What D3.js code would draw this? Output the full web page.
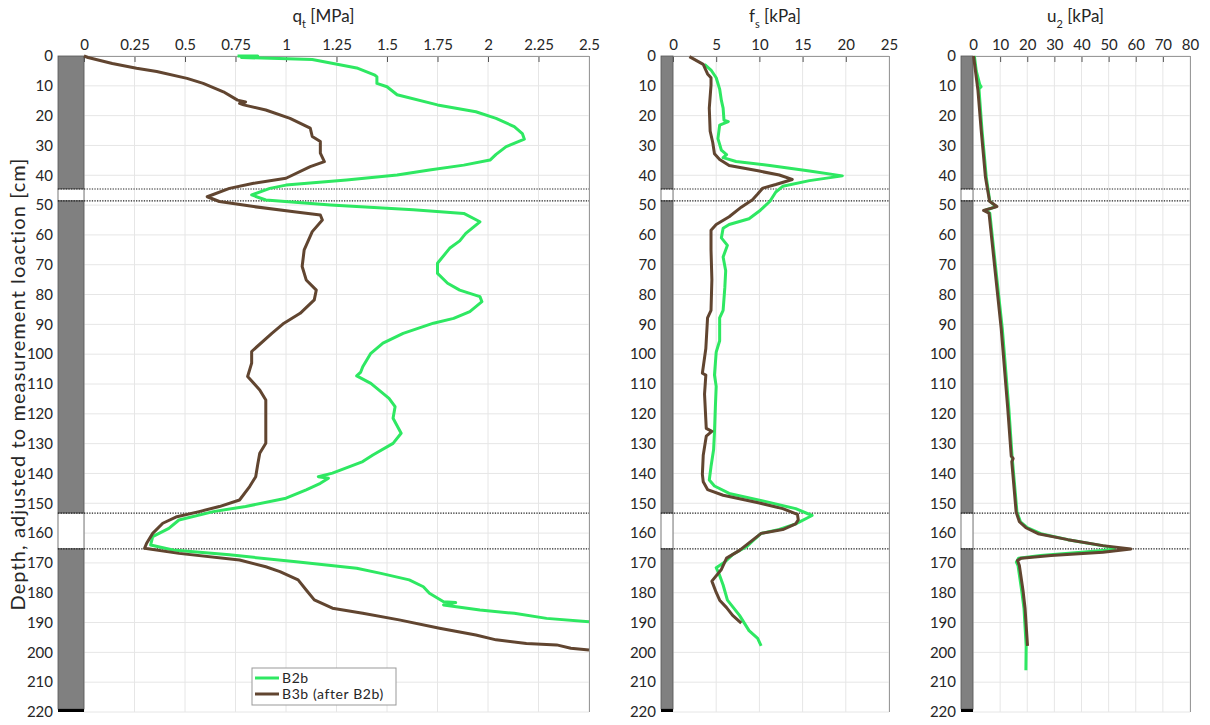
<!DOCTYPE html>
<html><head><meta charset="utf-8">
<script src="https://cdn.jsdelivr.net/npm/d3@7"></script>
<style>body{margin:0;background:#fff}svg{display:block}text{font-family:Lato,"Open Sans",sans-serif;fill:#262626}</style>
</head><body><svg id="c" width="1210" height="725"></svg>
<script>
// ---------- DATA ----------
const seriesNames = ["B2b", "B3b (after B2b)"];
const seriesColors = ["#2ee862", "#614530"];
const depthTicks = d3.range(0, 221, 10);
const qtTicks = [0, 0.25, 0.5, 0.75, 1, 1.25, 1.5, 1.75, 2, 2.25, 2.5];
const fsTicks = [0, 5, 10, 15, 20, 25];
const u2Ticks = [0, 10, 20, 30, 40, 50, 60, 70, 80];
const boundaryDepths = [44.6, 48.6, 153.3, 165.3];
const layerTop = [0, 44.6, 48.6, 153.3, 165.3, 219];
const layerBottom = [44.6, 48.6, 153.3, 165.3, 219, 220];
const layerKind = ["soil", "gap", "soil", "gap", "soil", "base"];

// qt [MPa]  [depth, value]
const qtB2b = [[0,0.76],[0,0.86],[0.5,0.78],[1.2,1.13],[4,1.35],[6.4,1.44],[7,1.45],[9.2,1.45],[10.3,1.50],[13,1.55],[16.4,1.75],[18.7,1.94],[20.9,2.04],[23.7,2.13],[26,2.17],[27.9,2.18],[30.4,2.09],[33,2.04],[34.9,2.01],[36.6,1.88],[38.2,1.71],[39.9,1.55],[41.6,1.30],[43.3,1.00],[44.4,0.92],[46.6,0.83],[48.3,0.90],[50,1.22],[51.6,1.63],[52.8,1.88],[55.6,1.96],[59.5,1.89],[62,1.86],[64.5,1.81],[69.5,1.75],[72.9,1.75],[76.2,1.80],[78.5,1.86],[80.7,1.96],[82.4,1.97],[85.7,1.91],[88,1.83],[89.6,1.73],[93,1.58],[96.3,1.48],[99.7,1.42],[104.2,1.38],[106,1.37],[107.3,1.35],[109.8,1.42],[114.8,1.51],[117.6,1.54],[121.5,1.53],[126.5,1.57],[129.9,1.53],[133.8,1.43],[136,1.38],[139.9,1.23],[141.1,1.16],[141.6,1.21],[143.3,1.17],[145.5,1.10],[148.3,1.00],[151.1,0.80],[152.8,0.64],[155.6,0.47],[158.4,0.42],[161.2,0.34],[164,0.33],[165.7,0.44],[167.3,0.72],[169.6,1.05],[171.8,1.35],[173.5,1.47],[175.7,1.61],[178,1.68],[180.2,1.71],[183,1.78],[183.3,1.84],[184.1,1.78],[185.8,1.96],[186.9,2.13],[188.6,2.29],[189.7,2.50]];
const qtB3b = [[0,0],[0.5,0.02],[2.5,0.14],[4.1,0.26],[5.2,0.36],[7.5,0.51],[9.2,0.59],[12,0.69],[14.8,0.76],[15.4,0.80],[15.9,0.77],[16.4,0.79],[18.1,0.90],[20.9,1.02],[24.2,1.12],[27,1.13],[28.7,1.17],[32.6,1.17],[35.4,1.19],[37.1,1.12],[41,1.00],[42.7,0.84],[44.4,0.72],[47.2,0.61],[48.8,0.67],[50.5,0.84],[52.2,1.04],[53.3,1.17],[55,1.18],[58.9,1.13],[65,1.09],[70.6,1.08],[75.1,1.10],[78.5,1.15],[81.8,1.14],[86.3,1.07],[89.6,0.99],[93,0.93],[99.1,0.83],[103,0.83],[107.5,0.81],[112,0.87],[115.4,0.90],[124.3,0.90],[129.9,0.90],[133.2,0.87],[137,0.86],[141.1,0.85],[144.4,0.82],[148.9,0.77],[151.1,0.67],[152.8,0.57],[154.5,0.46],[156.7,0.39],[160.1,0.34],[163.4,0.31],[165.1,0.30],[166.8,0.47],[169,0.77],[171.3,0.90],[172.9,0.97],[175.7,1.06],[179.1,1.10],[182.4,1.14],[185.2,1.23],[186.9,1.38],[189.1,1.56],[191.9,1.76],[194.2,1.94],[195.8,2.04],[197,2.19],[197.5,2.34],[198.6,2.41],[199.2,2.50]];

// fs [kPa]
const fsB2b = [[2.8,3.65],[4.7,4.4],[7.3,5.0],[11.1,5.4],[14.9,5.6],[17.5,5.8],[21.5,5.9],[22,6.4],[23.2,5.4],[27.7,5.2],[31.6,5.6],[33.1,6.2],[34.1,5.8],[35.4,7.3],[36.7,11.2],[38.6,15.8],[40.2,19.6],[41.8,15.8],[43.7,12.7],[45.6,11.9],[48.8,11.2],[52,10.0],[54.6,8.8],[56.5,6.5],[57.8,5.8],[61,5.6],[63.5,6.3],[67.4,5.8],[72,6.1],[77.6,6.0],[85.3,5.8],[87.8,5.4],[95.5,5.4],[99.3,5.0],[107,4.8],[110.8,5.0],[118,4.9],[126.2,4.8],[132,4.7],[137.7,4.4],[142.2,4.2],[144.2,4.8],[146.7,6.5],[149.2,10.4],[151.8,14.2],[154.1,16.1],[156.9,14.2],[158.8,12.3],[160.1,10.2],[162.7,9.2],[164.6,8.5],[167.2,6.9],[169.7,6.0],[171.6,5.0],[174.2,5.4],[177.4,5.8],[182.5,6.3],[187.6,7.7],[192.7,8.8],[195.3,9.8],[197.8,10.2]];
const fsB3b = [[0.2,1.9],[2.8,3.5],[4.7,3.8],[6,4.0],[7.3,4.4],[9.8,4.4],[17.5,4.2],[25.2,4.3],[29,4.6],[32.8,4.8],[34.7,5.4],[36.7,6.5],[38.6,10.0],[39.9,12.3],[41.4,13.8],[43.1,11.9],[44.3,10.4],[46.3,9.8],[48.2,9.2],[50.7,7.9],[53.9,6.5],[56.5,5.0],[58.4,4.4],[65,4.4],[75,4.5],[85.3,4.4],[87.8,4.0],[98.1,3.8],[106.4,3.4],[107,3.8],[113.4,3.65],[124.9,3.85],[125.9,4.5],[127.5,3.85],[133.9,3.5],[140.3,3.4],[142.8,3.5],[145.4,4.0],[147.3,5.8],[149.9,10.0],[151.8,12.7],[153.7,14.4],[155.5,14.5],[156.9,14.2],[158.8,12.7],[160.1,10.2],[163.3,8.8],[165.8,7.7],[168.4,6.2],[172.2,5.6],[176.1,4.5],[179.9,5.0],[182.5,5.4],[185,6.2],[187.6,6.9],[190.2,7.9]];

// u2 [kPa]
const u2B2b = [[0,0.5],[5,1.2],[9.6,2.5],[10.3,3.0],[11,2.2],[24.7,3.3],[40.7,4.9],[48.7,6.2],[50.5,8.5],[51.8,4.3],[52.7,6.2],[64.7,7.6],[91.4,10.8],[118.1,13.2],[134.2,14.4],[152.9,16.2],[156.2,17.5],[158.2,20],[160.2,25],[162.2,35],[164.7,50.7],[165.5,52],[166.4,40],[167.5,25],[168.4,16.8],[169.7,16.0],[170.9,16.6],[179.7,18.0],[185.3,18.8],[197.8,19.6],[206,19.5]];
const u2B3b = [[0,0.2],[11.3,1.8],[24.7,3.0],[40.7,4.6],[48.7,6.1],[50.5,8.8],[51.8,3.9],[52.7,5.9],[64.7,7.3],[91.4,10.4],[118.1,12.8],[134.2,14.1],[135,14.8],[136,14.3],[152.9,15.9],[156.2,17.1],[158.2,19.5],[160.2,24],[162.2,35],[164.2,47.9],[165.3,58.2],[166.4,47.9],[167.5,28.8],[168.4,17.8],[169.2,16.4],[170.9,17.1],[179.7,18.5],[185.3,19.2],[197.8,20.1]];

// ---------- DRAW ----------
const svg = d3.select("#c");
const yTop = 56, yBot = 712;
const y = d3.scaleLinear().domain([0, 220]).range([yTop, yBot]);

const panels = [
  {left: 58, zero: 84, right: 589, max: 2.5, ticks: qtTicks, title: ["q", "t", " [MPa]"], data: [qtB2b, qtB3b], yLab: 53},
  {left: 661, zero: 673, right: 889, max: 25, ticks: fsTicks, title: ["f", "s", " [kPa]"], data: [fsB2b, fsB3b], yLab: 656},
  {left: 961, zero: 973, right: 1190, max: 80, ticks: u2Ticks, title: ["u", "2", " [kPa]"], data: [u2B2b, u2B3b], yLab: 956}
];

panels.forEach(p => {
  const k = (p.right - p.zero) / p.max;
  const colMin = -(p.zero - p.left) / k;
  const x = d3.scaleLinear().domain([colMin, p.max]).range([p.left, p.right]);
  const g = svg.append("g");

  // grid
  g.selectAll(".vg").data(p.ticks).join("line")
    .attr("x1", d => x(d)).attr("x2", d => x(d)).attr("y1", yTop).attr("y2", yBot)
    .attr("stroke", "#e6e6e6").attr("stroke-width", 1);
  g.selectAll(".hg").data(depthTicks).join("line")
    .attr("x1", x(0)).attr("x2", p.right).attr("y1", d => y(d)).attr("y2", d => y(d))
    .attr("stroke", "#e6e6e6").attr("stroke-width", 1);

  // top axis
  const ax = d3.axisTop(x).tickValues(p.ticks).tickFormat(d => String(d)).tickSizeInner(-6).tickSizeOuter(0).tickPadding(6);
  const axg = g.append("g").attr("transform", `translate(0,${yTop})`).call(ax);
  axg.select(".domain").attr("stroke", "#999");
  axg.selectAll(".tick line").attr("stroke", "#555");
  axg.selectAll("text").attr("font-size", 15).attr("fill", "#262626").attr("font-family", "Lato");
  g.append("line").attr("x1", p.left).attr("x2", p.right).attr("y1", yTop + 0.5).attr("y2", yTop + 0.5).attr("stroke", "#999");
  g.append("line").attr("x1", p.right + 0.5).attr("x2", p.right + 0.5).attr("y1", yTop).attr("y2", yBot).attr("stroke", "#999");

  // left depth labels
  const ay = d3.axisLeft(y).tickValues(depthTicks).tickSize(0).tickPadding(0);
  const ayg = g.append("g").attr("transform", `translate(${p.yLab},0)`).call(ay);
  ayg.select(".domain").remove();
  ayg.selectAll("text").attr("font-size", 15).attr("fill", "#262626").attr("font-family", "Lato");

  // soil column
  const layers = layerTop.map((t, i) => ({t, b: layerBottom[i], k: layerKind[i]}));
  g.selectAll(".lay").data(layers).join("rect")
    .attr("x", x(colMin)).attr("width", x(0) - x(colMin))
    .attr("y", d => y(d.t)).attr("height", d => y(d.b) - y(d.t))
    .attr("fill", d => d.k === "soil" ? "#808080" : d.k === "gap" ? "#ffffff" : "#000000")
    .attr("stroke", d => d.k === "base" ? "none" : "#555").attr("stroke-width", 0.8);

  // boundary dotted lines
  g.selectAll(".bd").data(boundaryDepths).join("line")
    .attr("x1", p.left).attr("x2", p.right).attr("y1", d => y(d)).attr("y2", d => y(d))
    .attr("stroke", "#222").attr("stroke-width", 1.2).attr("stroke-dasharray", "1.3 1.3");

  // lines
  const line = d3.line().x(d => x(d[1])).y(d => y(d[0]));
  p.data.forEach((s, i) => {
    g.append("path").datum(s).attr("d", line).attr("fill", "none")
      .attr("stroke", seriesColors[i]).attr("stroke-width", 3).attr("stroke-linejoin", "round");
  });

  // title
  const cx = (p.left + p.right) / 2;
  const t = g.append("text").attr("x", cx).attr("y", 22).attr("text-anchor", "middle").attr("font-size", 17);
  t.append("tspan").text(p.title[0]);
  t.append("tspan").text(p.title[1]).attr("font-size", 11).attr("dy", 6);
  t.append("tspan").text(p.title[2]).attr("dy", -6);
});

// y label
svg.append("text").attr("transform", "translate(25,384) rotate(-90)").attr("text-anchor", "middle")
  .attr("font-size", 20).attr("letter-spacing", 1.1).text("Depth, adjusted to measurement loaction [cm]");

// legend
const lg = svg.append("g").attr("transform", "translate(252,668)");
lg.append("rect").attr("width", 144).attr("height", 37).attr("fill", "#fff").attr("stroke", "#999");
seriesNames.forEach((n, i) => {
  lg.append("line").attr("x1", 3).attr("x2", 27).attr("y1", 10 + i * 16).attr("y2", 10 + i * 16)
    .attr("stroke", seriesColors[i]).attr("stroke-width", 3);
  lg.append("text").attr("x", 30).attr("y", 15 + i * 16).attr("font-size", 14).attr("letter-spacing", 0.6).text(n);
});
</script></body></html>
